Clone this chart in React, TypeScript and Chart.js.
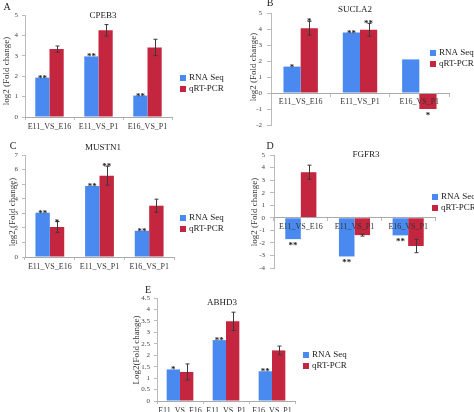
import React, { useEffect, useRef } from 'react';
import { Chart, registerables } from 'chart.js';
Chart.register(...registerables);

const categories = ['E11_VS_E16', 'E11_VS_P1', 'E16_VS_P1'];
const seriesNames = ['RNA Seq', 'qRT-PCR'];

const cpeb3Rna = [1.93, 2.97, 1.05];
const cpeb3Qrt = [3.33, 4.25, 3.41];
const cpeb3Err = [0.15, 0.28, 0.4];
const cpeb3RnaStars = ['**', '**', '**'];
const cpeb3QrtStars = ['', '', ''];

const sucla2Rna = [1.65, 3.78, 2.1];
const sucla2Qrt = [4.05, 3.95, -1.0];
const sucla2Err = [0.43, 0.4, 0];
const sucla2RnaStars = ['*', '**', ''];
const sucla2QrtStars = ['*', '**', '*'];

const mustn1Rna = [3.04, 4.88, 1.8];
const mustn1Qrt = [2.06, 5.58, 3.52];
const mustn1Err = [0.37, 0.65, 0.45];
const mustn1RnaStars = ['**', '**', '**'];
const mustn1QrtStars = ['*', '**', ''];

const fgfr3Rna = [-1.7, -3.08, -1.4];
const fgfr3Qrt = [3.63, -1.38, -2.25];
const fgfr3Err = [0.56, 0.08, 0.53];
const fgfr3RnaStars = ['**', '**', '**'];
const fgfr3QrtStars = ['', '', ''];

const abhd3Rna = [1.38, 2.66, 1.3];
const abhd3Qrt = [1.27, 3.48, 2.21];
const abhd3Err = [0.35, 0.4, 0.19];
const abhd3RnaStars = ['*', '**', '**'];
const abhd3QrtStars = ['', '', ''];

const BLUE = '#4a8af0';
const RED = '#c4263f';
const SERIF = '"Liberation Serif", "Times New Roman", serif';

type Box = { x: number; y: number; w: number; h: number };
type Area = { l: number; t: number; r: number; b: number };
type Panel = {
  letter: string; title: string; yTitle: string;
  rna: number[]; qrt: number[]; err: number[]; rnaStars: string[]; qrtStars: string[];
  yMin: number; yMax: number; yStep: number; xAtZero: boolean;
  box: Box; area: Area; yTickLen: number; yTickPad: number;
  titlePos: [number, number]; letterPos: [number, number]; yTitlePos: [number, number]; legendPos: [number, number];
};

const panels: Panel[] = [
  {
    letter: 'A', title: 'CPEB3', yTitle: 'log2 (Fold change)',
    rna: cpeb3Rna, qrt: cpeb3Qrt, err: cpeb3Err, rnaStars: cpeb3RnaStars, qrtStars: cpeb3QrtStars,
    yMin: 0, yMax: 5, yStep: 0.5, xAtZero: false,
    box: { x: 0, y: 0, w: 237, h: 140 }, area: { l: 25, t: 15, r: 172, b: 117 }, yTickLen: 3, yTickPad: 4,
    titlePos: [103, 16], letterPos: [7, 7], yTitlePos: [7, 71], legendPos: [180, 78],
  },
  {
    letter: 'B', title: 'SUCLA2', yTitle: 'log2 (Fold change)',
    rna: sucla2Rna, qrt: sucla2Qrt, err: sucla2Err, rnaStars: sucla2RnaStars, qrtStars: sucla2QrtStars,
    yMin: -2, yMax: 5, yStep: 1, xAtZero: true,
    box: { x: 237, y: 0, w: 237, h: 140 }, area: { l: 271, t: 13, r: 449, b: 125 }, yTickLen: 4, yTickPad: 5,
    titlePos: [355, 10], letterPos: [270, 3], yTitlePos: [254, 67], legendPos: [430, 53],
  },
  {
    letter: 'C', title: 'MUSTN1', yTitle: 'log2 (Fold change)',
    rna: mustn1Rna, qrt: mustn1Qrt, err: mustn1Err, rnaStars: mustn1RnaStars, qrtStars: mustn1QrtStars,
    yMin: 0, yMax: 7, yStep: 1, xAtZero: false,
    box: { x: 0, y: 140, w: 237, h: 140 }, area: { l: 25, t: 155, r: 174, b: 257 }, yTickLen: 3, yTickPad: 4,
    titlePos: [103, 148], letterPos: [13, 146], yTitlePos: [13, 212], legendPos: [180, 218],
  },
  {
    letter: 'D', title: 'FGFR3', yTitle: 'log2 (Fold change)',
    rna: fgfr3Rna, qrt: fgfr3Qrt, err: fgfr3Err, rnaStars: fgfr3RnaStars, qrtStars: fgfr3QrtStars,
    yMin: -4, yMax: 5, yStep: 1, xAtZero: true,
    box: { x: 237, y: 140, w: 237, h: 140 }, area: { l: 274, t: 155, r: 435, b: 268 }, yTickLen: 4, yTickPad: 5,
    titlePos: [366, 155], letterPos: [270, 146], yTitlePos: [255, 212], legendPos: [432, 197],
  },
  {
    letter: 'E', title: 'ABHD3', yTitle: 'Log2(Fold change)',
    rna: abhd3Rna, qrt: abhd3Qrt, err: abhd3Err, rnaStars: abhd3RnaStars, qrtStars: abhd3QrtStars,
    yMin: 0, yMax: 4.5, yStep: 0.5, xAtZero: false,
    box: { x: 100, y: 275, w: 270, h: 137 }, area: { l: 157, t: 298, r: 295, b: 401 }, yTickLen: 3, yTickPad: 4,
    titlePos: [222, 303], letterPos: [148, 290], yTitlePos: [137, 350], legendPos: [303, 355],
  },
];

const fmtTick = (v: any) => String(Math.round(Number(v) * 10) / 10);

function PanelChart({ p }: { p: Panel }) {
  const ref = useRef<HTMLCanvasElement>(null);
  useEffect(() => {
    const { box, area } = p;
    const padL = 3;
    const yW = area.l - box.x - padL;
    const padT = area.t - box.y;
    const padR = box.x + box.w - area.r;
    const bottomSpace = box.y + box.h - area.b;
    const annot = {
      id: 'annot',
      afterDatasetsDraw(chart: any) {
        const ctx = chart.ctx;
        const ys = chart.scales.y;
        ctx.save();
        ctx.strokeStyle = '#3a3a3a';
        ctx.lineWidth = 1;
        chart.getDatasetMeta(1).data.forEach((bar: any, i: number) => {
          const e = p.err[i];
          if (!e) return;
          const v = p.qrt[i];
          const x = Math.round(bar.x) + 0.5;
          const y1 = ys.getPixelForValue(v + e);
          const y2 = ys.getPixelForValue(v - e);
          ctx.beginPath();
          ctx.moveTo(x, y1); ctx.lineTo(x, y2);
          ctx.moveTo(x - 2, y1); ctx.lineTo(x + 2, y1);
          ctx.moveTo(x - 2, y2); ctx.lineTo(x + 2, y2);
          ctx.stroke();
        });
        ctx.fillStyle = '#222';
        ctx.font = `bold 9px ${SERIF}`;
        ctx.textAlign = 'center';
        ctx.textBaseline = 'alphabetic';
        [0, 1].forEach((di) => {
          const vals = di === 0 ? p.rna : p.qrt;
          const stars = di === 0 ? p.rnaStars : p.qrtStars;
          chart.getDatasetMeta(di).data.forEach((bar: any, i: number) => {
            const s = stars[i];
            if (!s) return;
            const v = vals[i];
            const e = di === 1 ? p.err[i] : 0;
            if (v >= 0) {
              const yy = ys.getPixelForValue(v + e);
              ctx.fillText(s, bar.x, yy + 3);
            } else {
              const yy = ys.getPixelForValue(v - e);
              ctx.fillText(s, bar.x, yy + 9);
            }
          });
        });
        ctx.restore();
      },
      afterDraw(chart: any) {
        const ctx = chart.ctx;
        const ox = box.x, oy = box.y;
        ctx.save();
        ctx.fillStyle = '#222';
        ctx.textBaseline = 'middle';
        ctx.textAlign = 'center';
        ctx.font = `9px ${SERIF}`;
        ctx.fillText(p.title, p.titlePos[0] - ox, p.titlePos[1] - oy);
        ctx.font = `10px ${SERIF}`;
        ctx.fillText(p.letter, p.letterPos[0] - ox, p.letterPos[1] - oy);
        ctx.save();
        ctx.translate(p.yTitlePos[0] - ox, p.yTitlePos[1] - oy);
        ctx.rotate(-Math.PI / 2);
        ctx.font = `9px ${SERIF}`;
        ctx.fillStyle = '#333';
        ctx.fillText(p.yTitle, 0, 0);
        ctx.restore();
        ctx.textAlign = 'left';
        ctx.font = `9px ${SERIF}`;
        const colors = [BLUE, RED];
        seriesNames.forEach((name, i) => {
          const lx = p.legendPos[0] - ox;
          const ly = p.legendPos[1] - oy + i * 11;
          ctx.fillStyle = colors[i];
          ctx.fillRect(lx, ly - 3, 6, 6);
          ctx.fillStyle = '#222';
          ctx.fillText(name, lx + 9, ly);
        });
        ctx.restore();
      },
    };
    const xScale: any = {
      type: 'category',
      offset: true,
      grid: { display: true, drawOnChartArea: false, drawTicks: true, tickLength: 3, color: '#bbb', offset: true },
      border: { display: true, color: '#aaa', z: 1 },
      ticks: { z: 1, font: { family: SERIF, size: 8 }, color: '#333', padding: p.xAtZero ? 1 : 2, autoSkip: false, maxRotation: 0 },
    };
    if (p.xAtZero) {
      xScale.position = { y: 0 };
    } else {
      xScale.position = 'bottom';
      xScale.afterFit = (s: any) => { s.height = bottomSpace; };
    }
    const chart = new Chart(ref.current!, {
      type: 'bar',
      data: {
        labels: categories,
        datasets: [
          { label: seriesNames[0], data: p.rna, backgroundColor: BLUE, borderWidth: 0 },
          { label: seriesNames[1], data: p.qrt, backgroundColor: RED, borderWidth: 0 },
        ],
      },
      options: {
        responsive: false,
        animation: false,
        devicePixelRatio: 1,
        categoryPercentage: 0.58,
        barPercentage: 1.0,
        layout: { padding: { left: padL, top: padT, right: padR, bottom: p.xAtZero ? bottomSpace : 0 } },
        plugins: { legend: { display: false }, tooltip: { enabled: false }, title: { display: false } },
        scales: {
          x: xScale,
          y: {
            min: p.yMin, max: p.yMax,
            ticks: { stepSize: p.yStep, font: { family: SERIF, size: 7 }, color: '#444', padding: p.yTickPad, callback: fmtTick },
            grid: { display: true, drawOnChartArea: false, drawTicks: true, tickLength: p.yTickLen, color: '#bbb' },
            border: { display: true, color: '#bbb' },
            afterFit: (s: any) => { s.width = yW; },
          },
        },
      } as any,
      plugins: [annot],
    });
    return () => chart.destroy();
  }, []);
  return (
    <canvas
      ref={ref}
      width={p.box.w}
      height={p.box.h}
      style={{ position: 'absolute', left: p.box.x, top: p.box.y, width: p.box.w, height: p.box.h }}
    />
  );
}

export default function App() {
  return (
    <div style={{ position: 'fixed', left: 0, top: 0, width: 474, height: 412, background: '#fff', overflow: 'hidden' }}>
      {panels.map((p) => (
        <PanelChart key={p.letter} p={p} />
      ))}
    </div>
  );
}
